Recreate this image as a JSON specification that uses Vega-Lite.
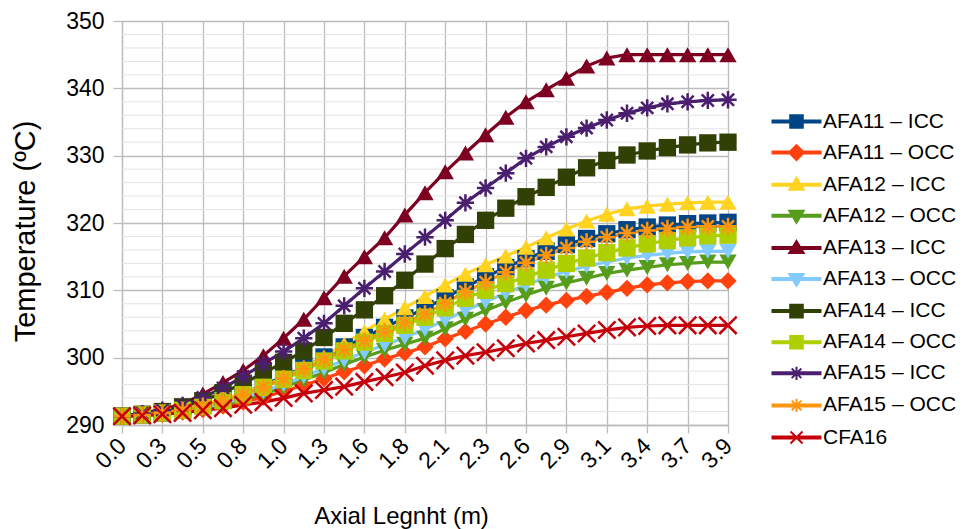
{
"$schema":"https://vega.github.io/schema/vega-lite/v6.json",
"width":606,"height":404,
"autosize":{"type":"none"},
"padding":{"left":122,"top":21,"right":234,"bottom":104},
"background":"white",
"config":{"view":{"stroke":null},"font":"Liberation Sans"},
"datasets":{
"minor":[{"m":292},{"m":294},{"m":296},{"m":298},{"m":302},{"m":304},{"m":306},{"m":308},{"m":312},{"m":314},{"m":316},{"m":318},{"m":322},{"m":324},{"m":326},{"m":328},{"m":332},{"m":334},{"m":336},{"m":338},{"m":342},{"m":344},{"m":346},{"m":348}],
"curves":[
{"s":"AFA11 – ICC","i":0,"t":291.3},{"s":"AFA11 – ICC","i":1,"t":291.5},{"s":"AFA11 – ICC","i":2,"t":291.8},{"s":"AFA11 – ICC","i":3,"t":292.2},{"s":"AFA11 – ICC","i":4,"t":292.9},{"s":"AFA11 – ICC","i":5,"t":293.7},{"s":"AFA11 – ICC","i":6,"t":294.7},{"s":"AFA11 – ICC","i":7,"t":295.9},{"s":"AFA11 – ICC","i":8,"t":297.2},{"s":"AFA11 – ICC","i":9,"t":298.6},{"s":"AFA11 – ICC","i":10,"t":300.1},{"s":"AFA11 – ICC","i":11,"t":301.6},{"s":"AFA11 – ICC","i":12,"t":303.0},{"s":"AFA11 – ICC","i":13,"t":304.5},{"s":"AFA11 – ICC","i":14,"t":305.9},{"s":"AFA11 – ICC","i":15,"t":307.3},{"s":"AFA11 – ICC","i":16,"t":308.9},{"s":"AFA11 – ICC","i":17,"t":310.5},{"s":"AFA11 – ICC","i":18,"t":312.0},{"s":"AFA11 – ICC","i":19,"t":313.4},{"s":"AFA11 – ICC","i":20,"t":314.7},{"s":"AFA11 – ICC","i":21,"t":315.8},{"s":"AFA11 – ICC","i":22,"t":316.8},{"s":"AFA11 – ICC","i":23,"t":317.7},{"s":"AFA11 – ICC","i":24,"t":318.4},{"s":"AFA11 – ICC","i":25,"t":319.0},{"s":"AFA11 – ICC","i":26,"t":319.4},{"s":"AFA11 – ICC","i":27,"t":319.7},{"s":"AFA11 – ICC","i":28,"t":319.9},{"s":"AFA11 – ICC","i":29,"t":320.0},{"s":"AFA11 – ICC","i":30,"t":320.1},
{"s":"AFA11 – OCC","i":0,"t":291.3},{"s":"AFA11 – OCC","i":1,"t":291.4},{"s":"AFA11 – OCC","i":2,"t":291.6},{"s":"AFA11 – OCC","i":3,"t":291.9},{"s":"AFA11 – OCC","i":4,"t":292.3},{"s":"AFA11 – OCC","i":5,"t":292.8},{"s":"AFA11 – OCC","i":6,"t":293.4},{"s":"AFA11 – OCC","i":7,"t":294.1},{"s":"AFA11 – OCC","i":8,"t":295.0},{"s":"AFA11 – OCC","i":9,"t":295.9},{"s":"AFA11 – OCC","i":10,"t":296.9},{"s":"AFA11 – OCC","i":11,"t":297.9},{"s":"AFA11 – OCC","i":12,"t":298.8},{"s":"AFA11 – OCC","i":13,"t":299.8},{"s":"AFA11 – OCC","i":14,"t":300.7},{"s":"AFA11 – OCC","i":15,"t":301.6},{"s":"AFA11 – OCC","i":16,"t":302.8},{"s":"AFA11 – OCC","i":17,"t":303.9},{"s":"AFA11 – OCC","i":18,"t":305.0},{"s":"AFA11 – OCC","i":19,"t":306.0},{"s":"AFA11 – OCC","i":20,"t":307.0},{"s":"AFA11 – OCC","i":21,"t":307.8},{"s":"AFA11 – OCC","i":22,"t":308.5},{"s":"AFA11 – OCC","i":23,"t":309.1},{"s":"AFA11 – OCC","i":24,"t":309.7},{"s":"AFA11 – OCC","i":25,"t":310.3},{"s":"AFA11 – OCC","i":26,"t":310.8},{"s":"AFA11 – OCC","i":27,"t":311.1},{"s":"AFA11 – OCC","i":28,"t":311.3},{"s":"AFA11 – OCC","i":29,"t":311.4},{"s":"AFA11 – OCC","i":30,"t":311.4},
{"s":"AFA12 – ICC","i":0,"t":291.3},{"s":"AFA12 – ICC","i":1,"t":291.5},{"s":"AFA12 – ICC","i":2,"t":291.8},{"s":"AFA12 – ICC","i":3,"t":292.3},{"s":"AFA12 – ICC","i":4,"t":293.0},{"s":"AFA12 – ICC","i":5,"t":293.8},{"s":"AFA12 – ICC","i":6,"t":294.7},{"s":"AFA12 – ICC","i":7,"t":295.8},{"s":"AFA12 – ICC","i":8,"t":297.0},{"s":"AFA12 – ICC","i":9,"t":298.5},{"s":"AFA12 – ICC","i":10,"t":300.1},{"s":"AFA12 – ICC","i":11,"t":302.0},{"s":"AFA12 – ICC","i":12,"t":303.9},{"s":"AFA12 – ICC","i":13,"t":305.7},{"s":"AFA12 – ICC","i":14,"t":307.4},{"s":"AFA12 – ICC","i":15,"t":309.1},{"s":"AFA12 – ICC","i":16,"t":310.8},{"s":"AFA12 – ICC","i":17,"t":312.4},{"s":"AFA12 – ICC","i":18,"t":313.8},{"s":"AFA12 – ICC","i":19,"t":315.1},{"s":"AFA12 – ICC","i":20,"t":316.4},{"s":"AFA12 – ICC","i":21,"t":317.8},{"s":"AFA12 – ICC","i":22,"t":319.1},{"s":"AFA12 – ICC","i":23,"t":320.3},{"s":"AFA12 – ICC","i":24,"t":321.3},{"s":"AFA12 – ICC","i":25,"t":322.1},{"s":"AFA12 – ICC","i":26,"t":322.5},{"s":"AFA12 – ICC","i":27,"t":322.8},{"s":"AFA12 – ICC","i":28,"t":323.0},{"s":"AFA12 – ICC","i":29,"t":323.1},{"s":"AFA12 – ICC","i":30,"t":323.1},
{"s":"AFA12 – OCC","i":0,"t":291.3},{"s":"AFA12 – OCC","i":1,"t":291.4},{"s":"AFA12 – OCC","i":2,"t":291.6},{"s":"AFA12 – OCC","i":3,"t":291.9},{"s":"AFA12 – OCC","i":4,"t":292.4},{"s":"AFA12 – OCC","i":5,"t":293.0},{"s":"AFA12 – OCC","i":6,"t":293.7},{"s":"AFA12 – OCC","i":7,"t":294.6},{"s":"AFA12 – OCC","i":8,"t":295.6},{"s":"AFA12 – OCC","i":9,"t":296.7},{"s":"AFA12 – OCC","i":10,"t":297.8},{"s":"AFA12 – OCC","i":11,"t":299.0},{"s":"AFA12 – OCC","i":12,"t":300.1},{"s":"AFA12 – OCC","i":13,"t":301.1},{"s":"AFA12 – OCC","i":14,"t":302.0},{"s":"AFA12 – OCC","i":15,"t":302.9},{"s":"AFA12 – OCC","i":16,"t":304.3},{"s":"AFA12 – OCC","i":17,"t":305.7},{"s":"AFA12 – OCC","i":18,"t":307.0},{"s":"AFA12 – OCC","i":19,"t":308.2},{"s":"AFA12 – OCC","i":20,"t":309.3},{"s":"AFA12 – OCC","i":21,"t":310.3},{"s":"AFA12 – OCC","i":22,"t":311.1},{"s":"AFA12 – OCC","i":23,"t":311.8},{"s":"AFA12 – OCC","i":24,"t":312.5},{"s":"AFA12 – OCC","i":25,"t":313.0},{"s":"AFA12 – OCC","i":26,"t":313.4},{"s":"AFA12 – OCC","i":27,"t":313.8},{"s":"AFA12 – OCC","i":28,"t":314.0},{"s":"AFA12 – OCC","i":29,"t":314.2},{"s":"AFA12 – OCC","i":30,"t":314.2},
{"s":"AFA13 – ICC","i":0,"t":291.3},{"s":"AFA13 – ICC","i":1,"t":291.8},{"s":"AFA13 – ICC","i":2,"t":292.3},{"s":"AFA13 – ICC","i":3,"t":293.1},{"s":"AFA13 – ICC","i":4,"t":294.6},{"s":"AFA13 – ICC","i":5,"t":296.3},{"s":"AFA13 – ICC","i":6,"t":298.1},{"s":"AFA13 – ICC","i":7,"t":300.3},{"s":"AFA13 – ICC","i":8,"t":302.9},{"s":"AFA13 – ICC","i":9,"t":305.7},{"s":"AFA13 – ICC","i":10,"t":308.9},{"s":"AFA13 – ICC","i":11,"t":312.1},{"s":"AFA13 – ICC","i":12,"t":315.0},{"s":"AFA13 – ICC","i":13,"t":317.8},{"s":"AFA13 – ICC","i":14,"t":321.2},{"s":"AFA13 – ICC","i":15,"t":324.5},{"s":"AFA13 – ICC","i":16,"t":327.6},{"s":"AFA13 – ICC","i":17,"t":330.4},{"s":"AFA13 – ICC","i":18,"t":333.1},{"s":"AFA13 – ICC","i":19,"t":335.7},{"s":"AFA13 – ICC","i":20,"t":338.0},{"s":"AFA13 – ICC","i":21,"t":339.8},{"s":"AFA13 – ICC","i":22,"t":341.5},{"s":"AFA13 – ICC","i":23,"t":343.3},{"s":"AFA13 – ICC","i":24,"t":344.5},{"s":"AFA13 – ICC","i":25,"t":345.0},{"s":"AFA13 – ICC","i":26,"t":345.0},{"s":"AFA13 – ICC","i":27,"t":345.0},{"s":"AFA13 – ICC","i":28,"t":345.0},{"s":"AFA13 – ICC","i":29,"t":345.0},{"s":"AFA13 – ICC","i":30,"t":345.0},
{"s":"AFA13 – OCC","i":0,"t":291.3},{"s":"AFA13 – OCC","i":1,"t":291.4},{"s":"AFA13 – OCC","i":2,"t":291.7},{"s":"AFA13 – OCC","i":3,"t":292.0},{"s":"AFA13 – OCC","i":4,"t":292.5},{"s":"AFA13 – OCC","i":5,"t":293.2},{"s":"AFA13 – OCC","i":6,"t":294.0},{"s":"AFA13 – OCC","i":7,"t":295.0},{"s":"AFA13 – OCC","i":8,"t":296.0},{"s":"AFA13 – OCC","i":9,"t":297.2},{"s":"AFA13 – OCC","i":10,"t":298.4},{"s":"AFA13 – OCC","i":11,"t":299.6},{"s":"AFA13 – OCC","i":12,"t":300.8},{"s":"AFA13 – OCC","i":13,"t":301.9},{"s":"AFA13 – OCC","i":14,"t":303.0},{"s":"AFA13 – OCC","i":15,"t":304.2},{"s":"AFA13 – OCC","i":16,"t":305.6},{"s":"AFA13 – OCC","i":17,"t":307.0},{"s":"AFA13 – OCC","i":18,"t":308.3},{"s":"AFA13 – OCC","i":19,"t":309.6},{"s":"AFA13 – OCC","i":20,"t":310.8},{"s":"AFA13 – OCC","i":21,"t":311.9},{"s":"AFA13 – OCC","i":22,"t":312.8},{"s":"AFA13 – OCC","i":23,"t":313.6},{"s":"AFA13 – OCC","i":24,"t":314.2},{"s":"AFA13 – OCC","i":25,"t":314.8},{"s":"AFA13 – OCC","i":26,"t":315.2},{"s":"AFA13 – OCC","i":27,"t":315.5},{"s":"AFA13 – OCC","i":28,"t":315.7},{"s":"AFA13 – OCC","i":29,"t":315.8},{"s":"AFA13 – OCC","i":30,"t":315.8},
{"s":"AFA14 – ICC","i":0,"t":291.3},{"s":"AFA14 – ICC","i":1,"t":291.6},{"s":"AFA14 – ICC","i":2,"t":292.0},{"s":"AFA14 – ICC","i":3,"t":292.7},{"s":"AFA14 – ICC","i":4,"t":293.6},{"s":"AFA14 – ICC","i":5,"t":294.8},{"s":"AFA14 – ICC","i":6,"t":296.2},{"s":"AFA14 – ICC","i":7,"t":297.7},{"s":"AFA14 – ICC","i":8,"t":299.3},{"s":"AFA14 – ICC","i":9,"t":301.0},{"s":"AFA14 – ICC","i":10,"t":303.0},{"s":"AFA14 – ICC","i":11,"t":305.1},{"s":"AFA14 – ICC","i":12,"t":307.1},{"s":"AFA14 – ICC","i":13,"t":309.2},{"s":"AFA14 – ICC","i":14,"t":311.5},{"s":"AFA14 – ICC","i":15,"t":313.9},{"s":"AFA14 – ICC","i":16,"t":316.2},{"s":"AFA14 – ICC","i":17,"t":318.3},{"s":"AFA14 – ICC","i":18,"t":320.4},{"s":"AFA14 – ICC","i":19,"t":322.2},{"s":"AFA14 – ICC","i":20,"t":323.9},{"s":"AFA14 – ICC","i":21,"t":325.3},{"s":"AFA14 – ICC","i":22,"t":326.8},{"s":"AFA14 – ICC","i":23,"t":328.2},{"s":"AFA14 – ICC","i":24,"t":329.3},{"s":"AFA14 – ICC","i":25,"t":330.1},{"s":"AFA14 – ICC","i":26,"t":330.7},{"s":"AFA14 – ICC","i":27,"t":331.2},{"s":"AFA14 – ICC","i":28,"t":331.6},{"s":"AFA14 – ICC","i":29,"t":331.9},{"s":"AFA14 – ICC","i":30,"t":332.0},
{"s":"AFA14 – OCC","i":0,"t":291.3},{"s":"AFA14 – OCC","i":1,"t":291.5},{"s":"AFA14 – OCC","i":2,"t":291.8},{"s":"AFA14 – OCC","i":3,"t":292.2},{"s":"AFA14 – OCC","i":4,"t":292.8},{"s":"AFA14 – OCC","i":5,"t":293.6},{"s":"AFA14 – OCC","i":6,"t":294.5},{"s":"AFA14 – OCC","i":7,"t":295.6},{"s":"AFA14 – OCC","i":8,"t":296.8},{"s":"AFA14 – OCC","i":9,"t":298.1},{"s":"AFA14 – OCC","i":10,"t":299.5},{"s":"AFA14 – OCC","i":11,"t":301.0},{"s":"AFA14 – OCC","i":12,"t":302.3},{"s":"AFA14 – OCC","i":13,"t":303.6},{"s":"AFA14 – OCC","i":14,"t":304.8},{"s":"AFA14 – OCC","i":15,"t":306.0},{"s":"AFA14 – OCC","i":16,"t":307.4},{"s":"AFA14 – OCC","i":17,"t":308.8},{"s":"AFA14 – OCC","i":18,"t":310.0},{"s":"AFA14 – OCC","i":19,"t":311.0},{"s":"AFA14 – OCC","i":20,"t":312.0},{"s":"AFA14 – OCC","i":21,"t":313.0},{"s":"AFA14 – OCC","i":22,"t":314.0},{"s":"AFA14 – OCC","i":23,"t":314.8},{"s":"AFA14 – OCC","i":24,"t":315.6},{"s":"AFA14 – OCC","i":25,"t":316.3},{"s":"AFA14 – OCC","i":26,"t":316.9},{"s":"AFA14 – OCC","i":27,"t":317.4},{"s":"AFA14 – OCC","i":28,"t":317.8},{"s":"AFA14 – OCC","i":29,"t":318.1},{"s":"AFA14 – OCC","i":30,"t":318.2},
{"s":"AFA15 – ICC","i":0,"t":291.3},{"s":"AFA15 – ICC","i":1,"t":291.7},{"s":"AFA15 – ICC","i":2,"t":292.2},{"s":"AFA15 – ICC","i":3,"t":292.9},{"s":"AFA15 – ICC","i":4,"t":294.1},{"s":"AFA15 – ICC","i":5,"t":295.5},{"s":"AFA15 – ICC","i":6,"t":297.2},{"s":"AFA15 – ICC","i":7,"t":299.1},{"s":"AFA15 – ICC","i":8,"t":300.9},{"s":"AFA15 – ICC","i":9,"t":302.9},{"s":"AFA15 – ICC","i":10,"t":305.1},{"s":"AFA15 – ICC","i":11,"t":307.7},{"s":"AFA15 – ICC","i":12,"t":310.3},{"s":"AFA15 – ICC","i":13,"t":312.8},{"s":"AFA15 – ICC","i":14,"t":315.4},{"s":"AFA15 – ICC","i":15,"t":317.9},{"s":"AFA15 – ICC","i":16,"t":320.4},{"s":"AFA15 – ICC","i":17,"t":323.0},{"s":"AFA15 – ICC","i":18,"t":325.2},{"s":"AFA15 – ICC","i":19,"t":327.4},{"s":"AFA15 – ICC","i":20,"t":329.6},{"s":"AFA15 – ICC","i":21,"t":331.3},{"s":"AFA15 – ICC","i":22,"t":332.8},{"s":"AFA15 – ICC","i":23,"t":334.1},{"s":"AFA15 – ICC","i":24,"t":335.3},{"s":"AFA15 – ICC","i":25,"t":336.3},{"s":"AFA15 – ICC","i":26,"t":337.1},{"s":"AFA15 – ICC","i":27,"t":337.7},{"s":"AFA15 – ICC","i":28,"t":338.0},{"s":"AFA15 – ICC","i":29,"t":338.2},{"s":"AFA15 – ICC","i":30,"t":338.3},
{"s":"AFA15 – OCC","i":0,"t":291.3},{"s":"AFA15 – OCC","i":1,"t":291.5},{"s":"AFA15 – OCC","i":2,"t":291.8},{"s":"AFA15 – OCC","i":3,"t":292.2},{"s":"AFA15 – OCC","i":4,"t":292.8},{"s":"AFA15 – OCC","i":5,"t":293.6},{"s":"AFA15 – OCC","i":6,"t":294.5},{"s":"AFA15 – OCC","i":7,"t":295.6},{"s":"AFA15 – OCC","i":8,"t":296.9},{"s":"AFA15 – OCC","i":9,"t":298.3},{"s":"AFA15 – OCC","i":10,"t":299.7},{"s":"AFA15 – OCC","i":11,"t":301.2},{"s":"AFA15 – OCC","i":12,"t":302.5},{"s":"AFA15 – OCC","i":13,"t":303.9},{"s":"AFA15 – OCC","i":14,"t":305.2},{"s":"AFA15 – OCC","i":15,"t":306.5},{"s":"AFA15 – OCC","i":16,"t":308.1},{"s":"AFA15 – OCC","i":17,"t":309.8},{"s":"AFA15 – OCC","i":18,"t":311.2},{"s":"AFA15 – OCC","i":19,"t":312.7},{"s":"AFA15 – OCC","i":20,"t":314.1},{"s":"AFA15 – OCC","i":21,"t":315.2},{"s":"AFA15 – OCC","i":22,"t":316.3},{"s":"AFA15 – OCC","i":23,"t":317.2},{"s":"AFA15 – OCC","i":24,"t":317.9},{"s":"AFA15 – OCC","i":25,"t":318.5},{"s":"AFA15 – OCC","i":26,"t":318.9},{"s":"AFA15 – OCC","i":27,"t":319.2},{"s":"AFA15 – OCC","i":28,"t":319.4},{"s":"AFA15 – OCC","i":29,"t":319.5},{"s":"AFA15 – OCC","i":30,"t":319.5},
{"s":"CFA16","i":0,"t":291.3},{"s":"CFA16","i":1,"t":291.4},{"s":"CFA16","i":2,"t":291.6},{"s":"CFA16","i":3,"t":291.8},{"s":"CFA16","i":4,"t":292.2},{"s":"CFA16","i":5,"t":292.5},{"s":"CFA16","i":6,"t":293.0},{"s":"CFA16","i":7,"t":293.4},{"s":"CFA16","i":8,"t":294.0},{"s":"CFA16","i":9,"t":294.7},{"s":"CFA16","i":10,"t":295.2},{"s":"CFA16","i":11,"t":295.7},{"s":"CFA16","i":12,"t":296.4},{"s":"CFA16","i":13,"t":297.1},{"s":"CFA16","i":14,"t":297.8},{"s":"CFA16","i":15,"t":298.8},{"s":"CFA16","i":16,"t":299.6},{"s":"CFA16","i":17,"t":300.3},{"s":"CFA16","i":18,"t":300.8},{"s":"CFA16","i":19,"t":301.4},{"s":"CFA16","i":20,"t":302.1},{"s":"CFA16","i":21,"t":302.6},{"s":"CFA16","i":22,"t":303.1},{"s":"CFA16","i":23,"t":303.6},{"s":"CFA16","i":24,"t":304.1},{"s":"CFA16","i":25,"t":304.5},{"s":"CFA16","i":26,"t":304.7},{"s":"CFA16","i":27,"t":304.8},{"s":"CFA16","i":28,"t":304.8},{"s":"CFA16","i":29,"t":304.8},{"s":"CFA16","i":30,"t":304.8}
]},
"layer":[
{"data":{"name":"minor"},"mark":{"type":"rule","color":"#e3e3e3","strokeWidth":1},
 "encoding":{"y":{"field":"m","type":"quantitative","scale":{"domain":[290,350],"nice":false,"zero":false},
  "axis":{"values":[290,300,310,320,330,340,350],"grid":true,"gridColor":"#bcbcbc","gridWidth":1.3,"domainColor":"#bcbcbc","domainWidth":1.3,"tickColor":"#bcbcbc","tickWidth":1.3,"tickSize":9,"labelFontSize":23,"labelColor":"#000000","labelPadding":9,"labelFont":"Liberation Sans",
   "title":"Temperature (ºC)","titleFontSize":29,"titleFont":"Liberation Sans","titleFontWeight":"normal","titleColor":"#000000","titleX":-88,"titleY":210,"titleAngle":-90,"titleAlign":"center","titleBaseline":"alphabetic"}}}},
{"data":{"name":"curves"},"mark":{"type":"line","strokeWidth":3.2},
 "encoding":{
  "x":{"field":"i","type":"quantitative","scale":{"domain":[0,30],"nice":false,"zero":false},
   "axis":{"values":[0,1,2,3,4,5,6,7,8,9,10,11,12,13,14,15,16,17,18,19,20,21,22,23,24,25,26,27,28,29,30],"grid":true,"gridColor":"#bcbcbc","gridWidth":1.3,"domainColor":"#bcbcbc","domainWidth":1.3,"tickColor":"#bcbcbc","tickWidth":1.3,"tickSize":8,
    "labelExpr":"datum.value % 2 == 0 ? ['0.0','0.3','0.5','0.8','1.0','1.3','1.6','1.8','2.1','2.3','2.6','2.9','3.1','3.4','3.7','3.9'][datum.value/2] : ''",
    "labelAngle":-45,"labelAlign":"right","labelBaseline":"middle","labelFontSize":23,"labelColor":"#000000","labelPadding":9,"labelOverlap":false,"labelFlush":false,"labelFont":"Liberation Sans",
    "title":"Axial Legnht (m)","titleFontSize":24,"titleFont":"Liberation Sans","titleFontWeight":"normal","titleColor":"#000000","titleX":279,"titleY":98,"titleAlign":"center","titleBaseline":"alphabetic"}},
  "y":{"field":"t","type":"quantitative"},
  "detail":{"field":"s"},
  "stroke":{"field":"s","type":"nominal","legend":null,
   "scale":{"range":["#004586","#ff420e","#ffd320","#579d1c","#7e0021","#83caff","#314004","#aecf00","#4b1f6f","#ff950e","#c5000b"]}}}},
{"data":{"name":"curves"},"transform":[{"filter":{"not":{"field":"s","oneOf":["AFA15 – ICC","AFA15 – OCC","CFA16"]}}}],
 "mark":{"type":"point","filled":true,"opacity":1,"size":300},
 "encoding":{"x":{"field":"i","type":"quantitative"},"y":{"field":"t","type":"quantitative"},
  "color":{"field":"s","type":"nominal",
   "scale":{"domain":["AFA11 – ICC","AFA11 – OCC","AFA12 – ICC","AFA12 – OCC","AFA13 – ICC","AFA13 – OCC","AFA14 – ICC","AFA14 – OCC","AFA15 – ICC","AFA15 – OCC","CFA16"],
    "range":["#004586","#ff420e","#ffd320","#579d1c","#7e0021","#83caff","#314004","#aecf00","#4b1f6f","#ff950e","#c5000b"]},
   "legend":{"orient":"none","legendX":664,"legendY":90,"title":null,"padding":0,
    "symbolSize":144,"symbolStrokeWidth":2,
    "symbolStrokeColor":{"expr":"scale('color', datum.value)"},
    "symbolType":{"expr":"['M-4,-0.17H4V0.17H-4ZM-1.05,-1.05H1.05V1.05H-1.05Z','M-4,-0.17H4V0.17H-4ZM0,-1.25L1.25,0L0,1.25L-1.25,0Z','M-4,-0.17H4V0.17H-4ZM0,-1.15L1.2,0.85H-1.2Z','M-4,-0.17H4V0.17H-4ZM-1.2,-0.85H1.2L0,1.15Z','M-4,-0.17H4V0.17H-4ZM0,-1.15L1.2,0.85H-1.2Z','M-4,-0.17H4V0.17H-4ZM-1.2,-0.85H1.2L0,1.15Z','M-4,-0.17H4V0.17H-4ZM-1.05,-1.05H1.05V1.05H-1.05Z','M-4,-0.17H4V0.17H-4ZM-1.05,-1.05H1.05V1.05H-1.05Z','M-4,-0.17H4V0.17H-4ZM-1.1,0H1.1M0,-1.1V1.1M-0.8,-0.8L0.8,0.8M-0.8,0.8L0.8,-0.8','M-4,-0.17H4V0.17H-4ZM-1.1,0H1.1M0,-1.1V1.1M-0.8,-0.8L0.8,0.8M-0.8,0.8L0.8,-0.8','M-4,-0.17H4V0.17H-4ZM-1,-1L1,1M-1,1L1,-1'][indexof(['AFA11 – ICC','AFA11 – OCC','AFA12 – ICC','AFA12 – OCC','AFA13 – ICC','AFA13 – OCC','AFA14 – ICC','AFA14 – OCC','AFA15 – ICC','AFA15 – OCC','CFA16'], datum.value)]"},
    "labelFontSize":21,"labelColor":"#000000","labelFont":"Liberation Sans","labelOffset":16,"rowPadding":9.1,"symbolOpacity":1}},
  "shape":{"field":"s","type":"nominal","legend":null,
   "scale":{"range":["square","diamond","triangle-up","triangle-down","triangle-up","triangle-down","square","square","M-1,0H1M0,-1V1M-0.7,-0.7L0.7,0.7M-0.7,0.7L0.7,-0.7","M-1,0H1M0,-1V1M-0.7,-0.7L0.7,0.7M-0.7,0.7L0.7,-0.7","M-1,-1L1,1M-1,1L1,-1"]}}}},
{"data":{"name":"curves"},"transform":[{"filter":{"field":"s","oneOf":["AFA15 – ICC","AFA15 – OCC","CFA16"]}}],
 "mark":{"type":"point","filled":false,"opacity":1,"size":300,"strokeWidth":2.5},
 "encoding":{"x":{"field":"i","type":"quantitative"},"y":{"field":"t","type":"quantitative"},
  "stroke":{"field":"s","type":"nominal","legend":null},
  "shape":{"field":"s","type":"nominal","legend":null}}}
]
}
